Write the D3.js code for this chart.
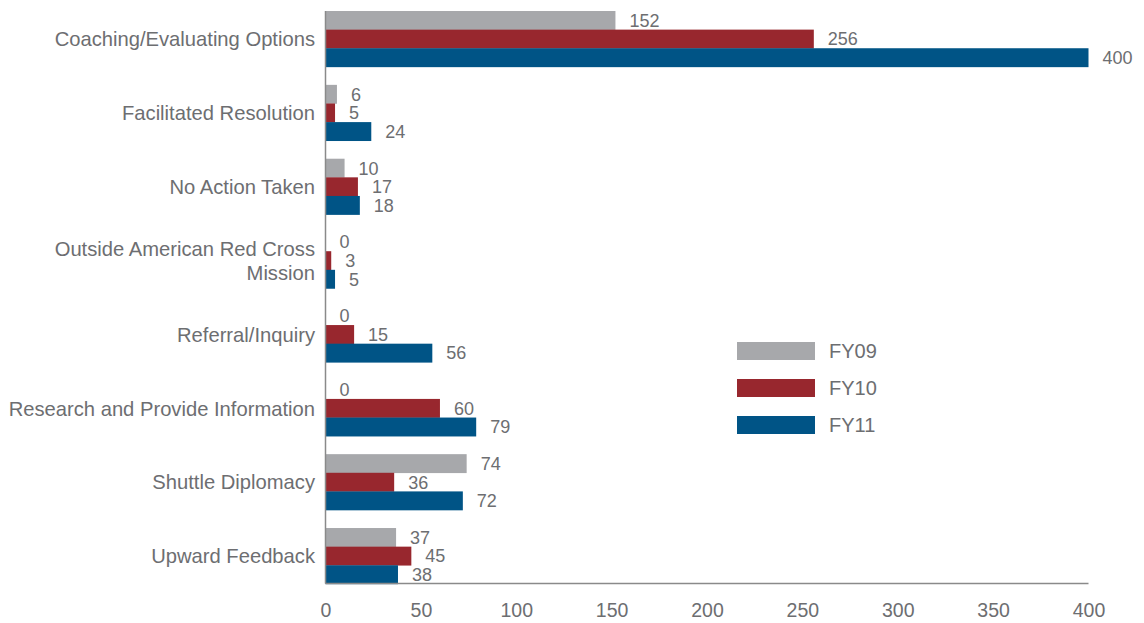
<!DOCTYPE html>
<html><head><meta charset="utf-8">
<script src="https://cdn.jsdelivr.net/npm/d3@7/dist/d3.min.js"></script>
<style>body{margin:0;background:#fff}svg{display:block}text{font-family:"Liberation Sans",Arial,sans-serif}</style>
</head><body><svg id="c" width="1144" height="623"></svg>
<script>
const categories = ["Coaching/Evaluating Options","Facilitated Resolution","No Action Taken","Outside American Red Cross Mission","Referral/Inquiry","Research and Provide Information","Shuttle Diplomacy","Upward Feedback"];
const seriesNames = ["FY09","FY10","FY11"];
const fy09 = [152,6,10,0,0,0,74,37];
const fy10 = [256,5,17,3,15,60,36,45];
const fy11 = [400,24,18,5,56,79,72,38];
const xTicks = [0,50,100,150,200,250,300,350,400];
const colors = ["#a7a8ab","#98272e","#005486"];

const values = [fy09, fy10, fy11];
const svg = d3.select("#c");
const x = d3.scaleLinear().domain([0,400]).range([325.5,1088.5]);
const step = 73.86;
const y = d3.scaleBand().domain(categories).range([2, 2 + step*8]).paddingInner(0.2437).paddingOuter(0.1218);
const ys = d3.scaleBand().domain(seriesNames).range([0, y.bandwidth()]);

const g = svg.append("g");
categories.forEach((c, i) => {
  seriesNames.forEach((s, j) => {
    const v = values[j][i];
    g.append("rect").attr("x", x(0)).attr("y", y(c) + ys(s)).attr("width", x(v) - x(0)).attr("height", ys.bandwidth()+0.3).attr("fill", colors[j]);
    g.append("text").attr("x", x(v) + 14).attr("y", y(c) + ys(s) + ys.bandwidth()/2).attr("dy", "0.36em")
      .attr("font-size", 18).attr("fill", "#6d6e71").text(v);
  });
});

// axes lines
svg.append("line").attr("x1", x(0)).attr("x2", x(0)).attr("y1", y(categories[0])).attr("y2", 583.5).attr("stroke", "#8a8a8a").attr("stroke-width", 1.5);
svg.append("line").attr("x1", x(0)).attr("x2", x(400)).attr("y1", 583.5).attr("y2", 583.5).attr("stroke", "#8a8a8a").attr("stroke-width", 1.5);

// x tick labels
const xa = d3.axisBottom(x).tickValues(xTicks).tickSize(0).tickPadding(0);
const xg = svg.append("g").attr("transform", "translate(0,603)").call(xa);
xg.select(".domain").remove();
xg.selectAll("text").attr("font-size", 19.5).attr("fill", "#6d6e71").attr("font-family", "'Liberation Sans',Arial,sans-serif").attr("dy", "0.71em");

// category labels
categories.forEach(c => {
  const cy = y(c) + y.bandwidth()/2;
  const t = svg.append("text").attr("x", 315).attr("text-anchor", "end").attr("font-size", 20.2).attr("fill", "#6d6e71");
  if (c === "Outside American Red Cross Mission") {
    t.append("tspan").attr("x", 315).attr("y", cy - 12).attr("dy", "0.36em").text("Outside American Red Cross");
    t.append("tspan").attr("x", 315).attr("y", cy + 12).attr("dy", "0.36em").text("Mission");
  } else {
    t.attr("y", cy).attr("dy", "0.36em").text(c);
  }
});

// legend
const lg = svg.append("g").attr("transform", "translate(737,342)");
seriesNames.forEach((s, j) => {
  lg.append("rect").attr("x", 0).attr("y", j*37).attr("width", 78).attr("height", 18).attr("fill", colors[j]);
  lg.append("text").attr("x", 92).attr("y", j*37 + 9).attr("dy", "0.36em").attr("font-size", 20).attr("fill", "#6d6e71").text(s);
});
</script></body></html>
